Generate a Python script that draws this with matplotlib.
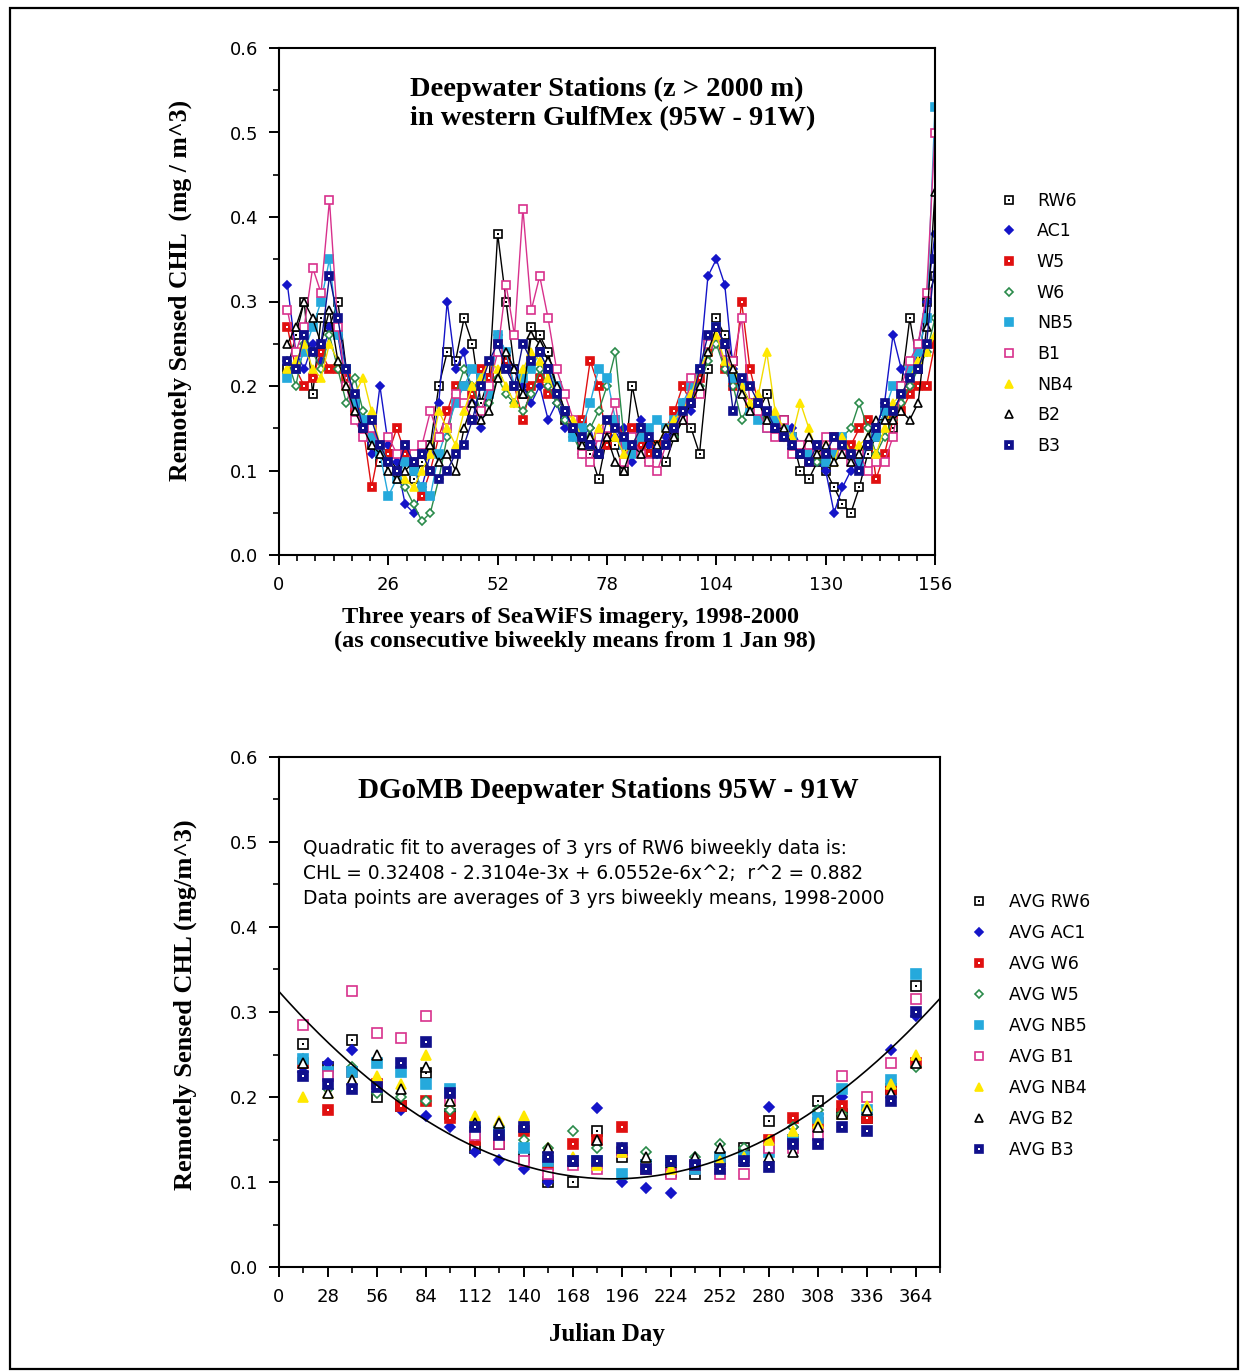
import numpy as np
import matplotlib.pyplot as plt
from matplotlib.lines import Line2D
from matplotlib.patches import Rectangle
from matplotlib.ticker import MultipleLocator

W, H = 1241, 1371

# ---- top panel: biweekly means, three years (week 2 .. 156) ----
semanas = np.arange(2, 157, 2)

rw6 = [0.22, 0.26, 0.30, 0.19, 0.28, 0.27, 0.30, 0.22, 0.18, 0.15,
       0.13, 0.11, 0.12, 0.10, 0.12, 0.09, 0.11, 0.13, 0.20, 0.24,
       0.23, 0.28, 0.25, 0.18, 0.21, 0.38, 0.30, 0.22, 0.19, 0.27,
       0.26, 0.24, 0.20, 0.16, 0.15, 0.13, 0.12, 0.09, 0.14, 0.13,
       0.10, 0.20, 0.15, 0.12, 0.13, 0.11, 0.14, 0.16, 0.15, 0.12,
       0.22, 0.28, 0.26, 0.23, 0.20, 0.18, 0.17, 0.19, 0.15, 0.16,
       0.14, 0.10, 0.09, 0.11, 0.10, 0.08, 0.06, 0.05, 0.08, 0.12,
       0.14, 0.17, 0.15, 0.20, 0.28, 0.22, 0.30, 0.33]
ac1 = [0.32, 0.24, 0.22, 0.25, 0.23, 0.27, 0.26, 0.20, 0.17, 0.15,
       0.12, 0.20, 0.13, 0.11, 0.06, 0.05, 0.08, 0.12, 0.18, 0.30,
       0.22, 0.24, 0.18, 0.15, 0.20, 0.26, 0.24, 0.22, 0.20, 0.18,
       0.20, 0.16, 0.18, 0.15, 0.16, 0.14, 0.15, 0.12, 0.13, 0.14,
       0.15, 0.11, 0.16, 0.13, 0.12, 0.14, 0.15, 0.18, 0.17, 0.22,
       0.33, 0.35, 0.32, 0.22, 0.20, 0.18, 0.17, 0.15, 0.16, 0.14,
       0.15, 0.13, 0.12, 0.11, 0.10, 0.05, 0.08, 0.10, 0.12, 0.13,
       0.15, 0.18, 0.26, 0.22, 0.20, 0.25, 0.30, 0.38]
w5 = [0.27, 0.22, 0.20, 0.21, 0.24, 0.22, 0.22, 0.21, 0.17, 0.15,
      0.08, 0.13, 0.12, 0.15, 0.12, 0.11, 0.07, 0.10, 0.14, 0.17,
      0.20, 0.20, 0.19, 0.22, 0.21, 0.25, 0.23, 0.20, 0.16, 0.20,
      0.21, 0.19, 0.20, 0.17, 0.15, 0.16, 0.23, 0.20, 0.13, 0.16,
      0.14, 0.15, 0.13, 0.12, 0.13, 0.15, 0.17, 0.20, 0.18, 0.21,
      0.24, 0.26, 0.22, 0.20, 0.30, 0.22, 0.18, 0.16, 0.15, 0.14,
      0.14, 0.12, 0.11, 0.13, 0.12, 0.14, 0.12, 0.13, 0.15, 0.16,
      0.09, 0.12, 0.16, 0.17, 0.19, 0.20, 0.20, 0.25]
w6 = [0.23, 0.20, 0.25, 0.24, 0.22, 0.26, 0.22, 0.18, 0.21, 0.17,
      0.14, 0.12, 0.11, 0.10, 0.08, 0.06, 0.04, 0.05, 0.09, 0.14,
      0.19, 0.22, 0.20, 0.17, 0.18, 0.21, 0.19, 0.18, 0.17, 0.19,
      0.22, 0.20, 0.18, 0.16, 0.14, 0.12, 0.15, 0.17, 0.20, 0.24,
      0.14, 0.13, 0.12, 0.11, 0.12, 0.13, 0.14, 0.16, 0.18, 0.20,
      0.23, 0.25, 0.22, 0.20, 0.16, 0.18, 0.17, 0.16, 0.15, 0.14,
      0.13, 0.12, 0.13, 0.11, 0.12, 0.13, 0.14, 0.15, 0.18, 0.15,
      0.12, 0.14, 0.16, 0.18, 0.20, 0.22, 0.24, 0.28]
nb5 = [0.21, 0.22, 0.24, 0.27, 0.30, 0.35, 0.26, 0.22, 0.18, 0.16,
       0.14, 0.12, 0.07, 0.09, 0.11, 0.10, 0.08, 0.07, 0.12, 0.15,
       0.18, 0.20, 0.22, 0.21, 0.19, 0.26, 0.24, 0.20, 0.21, 0.22,
       0.24, 0.22, 0.20, 0.17, 0.14, 0.15, 0.18, 0.22, 0.21, 0.16,
       0.13, 0.12, 0.14, 0.15, 0.16, 0.15, 0.16, 0.18, 0.20, 0.22,
       0.25, 0.27, 0.24, 0.21, 0.20, 0.17, 0.16, 0.15, 0.16, 0.15,
       0.14, 0.13, 0.12, 0.13, 0.11, 0.12, 0.14, 0.12, 0.11, 0.13,
       0.14, 0.17, 0.20, 0.19, 0.22, 0.24, 0.28, 0.53]
b1 = [0.29, 0.24, 0.27, 0.34, 0.31, 0.42, 0.27, 0.20, 0.16, 0.14,
      0.15, 0.13, 0.14, 0.12, 0.13, 0.12, 0.13, 0.17, 0.14, 0.15,
      0.19, 0.18, 0.16, 0.17, 0.20, 0.24, 0.32, 0.26, 0.41, 0.29,
      0.33, 0.28, 0.22, 0.19, 0.16, 0.12, 0.11, 0.14, 0.15, 0.18,
      0.11, 0.14, 0.12, 0.11, 0.10, 0.13, 0.15, 0.16, 0.21, 0.19,
      0.25, 0.26, 0.24, 0.23, 0.28, 0.18, 0.17, 0.15, 0.14, 0.16,
      0.12, 0.13, 0.13, 0.12, 0.14, 0.13, 0.12, 0.11, 0.12, 0.10,
      0.11, 0.11, 0.14, 0.20, 0.23, 0.25, 0.31, 0.50]
nb4 = [0.22, 0.23, 0.25, 0.22, 0.21, 0.25, 0.23, 0.20, 0.19, 0.21,
       0.17, 0.13, 0.11, 0.10, 0.09, 0.08, 0.10, 0.12, 0.17, 0.15,
       0.13, 0.17, 0.20, 0.21, 0.23, 0.22, 0.20, 0.18, 0.22, 0.24,
       0.23, 0.21, 0.19, 0.17, 0.16, 0.14, 0.13, 0.15, 0.16, 0.14,
       0.12, 0.13, 0.15, 0.14, 0.13, 0.15, 0.16, 0.17, 0.19, 0.22,
       0.24, 0.26, 0.23, 0.22, 0.20, 0.18, 0.19, 0.24, 0.17, 0.15,
       0.14, 0.18, 0.15, 0.12, 0.13, 0.11, 0.14, 0.12, 0.13, 0.14,
       0.12, 0.15, 0.18, 0.19, 0.21, 0.23, 0.24, 0.26]
b2 = [0.25, 0.27, 0.30, 0.28, 0.25, 0.29, 0.23, 0.20, 0.17, 0.15,
      0.13, 0.12, 0.10, 0.09, 0.10, 0.11, 0.12, 0.13, 0.11, 0.12,
      0.10, 0.15, 0.18, 0.16, 0.17, 0.21, 0.24, 0.22, 0.19, 0.26,
      0.25, 0.23, 0.20, 0.17, 0.15, 0.13, 0.14, 0.12, 0.14, 0.11,
      0.10, 0.13, 0.12, 0.14, 0.13, 0.15, 0.14, 0.16, 0.18, 0.20,
      0.24, 0.27, 0.25, 0.22, 0.19, 0.17, 0.18, 0.16, 0.15, 0.15,
      0.13, 0.12, 0.14, 0.12, 0.13, 0.11, 0.12, 0.11, 0.12, 0.14,
      0.16, 0.16, 0.16, 0.17, 0.16, 0.18, 0.27, 0.43]
b3 = [0.23, 0.22, 0.26, 0.24, 0.25, 0.33, 0.28, 0.22, 0.19, 0.15,
      0.16, 0.13, 0.11, 0.10, 0.13, 0.11, 0.12, 0.10, 0.09, 0.10,
      0.12, 0.13, 0.16, 0.20, 0.23, 0.25, 0.22, 0.20, 0.25, 0.23,
      0.24, 0.22, 0.19, 0.17, 0.15, 0.14, 0.13, 0.12, 0.16, 0.15,
      0.14, 0.13, 0.15, 0.14, 0.12, 0.13, 0.15, 0.17, 0.18, 0.22,
      0.26, 0.27, 0.25, 0.17, 0.21, 0.20, 0.18, 0.17, 0.15, 0.14,
      0.13, 0.12, 0.11, 0.13, 0.12, 0.14, 0.13, 0.12, 0.10, 0.13,
      0.15, 0.18, 0.17, 0.19, 0.21, 0.22, 0.25, 0.35]

# ---- bottom panel: 3-yr averages by julian day ----
dias = np.arange(14, 365, 14)

avg_rw6 = [0.262, 0.235, 0.267, 0.200, 0.190, 0.228, 0.180, 0.140, 0.145, 0.130, 0.100, 0.100, 0.160,
           0.130, 0.120, 0.112, 0.110, 0.125, 0.140, 0.172, 0.150, 0.195, 0.180, 0.175, 0.210, 0.330]
avg_ac1 = [0.230, 0.240, 0.255, 0.220, 0.185, 0.178, 0.165, 0.135, 0.126, 0.115, 0.100, 0.125, 0.187,
           0.100, 0.093, 0.087, 0.120, 0.125, 0.135, 0.188, 0.165, 0.180, 0.200, 0.185, 0.255, 0.295]
avg_w6 = [0.240, 0.185, 0.230, 0.215, 0.190, 0.195, 0.175, 0.150, 0.150, 0.160, 0.120, 0.145, 0.150,
          0.165, 0.115, 0.125, 0.115, 0.130, 0.130, 0.150, 0.175, 0.170, 0.190, 0.175, 0.210, 0.240]
avg_w5 = [0.245, 0.210, 0.235, 0.205, 0.200, 0.195, 0.185, 0.160, 0.165, 0.150, 0.140, 0.160, 0.140,
          0.140, 0.135, 0.120, 0.130, 0.145, 0.140, 0.145, 0.165, 0.185, 0.180, 0.185, 0.215, 0.235]
avg_nb5 = [0.245, 0.230, 0.230, 0.240, 0.230, 0.215, 0.210, 0.160, 0.160, 0.140, 0.125, 0.125, 0.125,
           0.110, 0.120, 0.125, 0.115, 0.130, 0.130, 0.135, 0.150, 0.175, 0.210, 0.185, 0.220, 0.345]
avg_b1 = [0.285, 0.225, 0.325, 0.275, 0.270, 0.295, 0.195, 0.155, 0.145, 0.125, 0.110, 0.120, 0.115,
          0.135, 0.115, 0.110, 0.120, 0.110, 0.110, 0.140, 0.140, 0.155, 0.225, 0.200, 0.240, 0.315]
avg_nb4 = [0.200, 0.205, 0.220, 0.225, 0.215, 0.250, 0.195, 0.178, 0.172, 0.178, 0.140, 0.130, 0.120,
           0.135, 0.125, 0.115, 0.120, 0.125, 0.130, 0.150, 0.160, 0.170, 0.180, 0.190, 0.215, 0.250]
avg_b2 = [0.240, 0.205, 0.220, 0.250, 0.210, 0.235, 0.195, 0.170, 0.170, 0.165, 0.140, 0.125, 0.150,
          0.140, 0.130, 0.125, 0.130, 0.140, 0.125, 0.130, 0.135, 0.165, 0.180, 0.185, 0.205, 0.240]
avg_b3 = [0.225, 0.215, 0.210, 0.212, 0.240, 0.265, 0.205, 0.165, 0.155, 0.165, 0.130, 0.125, 0.125,
          0.140, 0.115, 0.125, 0.120, 0.115, 0.125, 0.118, 0.145, 0.145, 0.165, 0.160, 0.195, 0.300]

# quadratic fit to RW6 averages (coefficients as quoted on the chart)
coef = [6.0552e-6, -2.3104e-3, 0.32408]

# marker style per station: (marker, face, edge, centre-dot colour or None, line colour)
estilo = {
    'RW6': ('s', 'white', 'black', 'black', 'black'),
    'AC1': ('D', '#1414c8', '#1414c8', None, '#1414c8'),
    'W5':  ('s', '#e01010', '#e01010', 'white', '#e01010'),
    'W6':  ('D', 'white', '#2a8a4a', None, '#2a8a4a'),
    'NB5': ('s', '#25a9dc', '#25a9dc', None, '#25a9dc'),
    'B1':  ('s', 'white', '#d8318c', None, '#d8318c'),
    'NB4': ('^', '#ffe800', '#ffe800', None, '#f2dc00'),
    'B2':  ('^', 'white', 'black', None, 'black'),
    'B3':  ('s', '#10108c', '#10108c', 'white', '#10108c'),
}


def marca(ax, x, y, nome, linha=True, ms=6.0):
    mk, fc, ec, dot, lc = estilo[nome]
    tam = ms * 0.75 if mk == 'D' else ms
    ls = '-' if linha else 'none'
    h1, = ax.plot(x, y, ls=ls, lw=1.0, color=lc, marker=mk, ms=tam,
                  mfc=fc, mec=ec, mew=1.2)
    if dot is None:
        return h1
    h2, = ax.plot(x, y, ls='none', marker='s', ms=1.6, mfc=dot, mec=dot, mew=0)
    return (h1, h2)


def legenda_handle(nome, ms=6.0):
    mk, fc, ec, dot, lc = estilo[nome]
    tam = ms * 0.75 if mk == 'D' else ms
    h1 = Line2D([], [], ls='none', marker=mk, ms=tam, mfc=fc, mec=ec, mew=1.2)
    if dot is None:
        return h1
    h2 = Line2D([], [], ls='none', marker='s', ms=1.6, mfc=dot, mec=dot, mew=0)
    return (h1, h2)


def fx(px):
    return px / W


def fy(py):
    return 1 - py / H


plt.rcParams['font.family'] = ['DejaVu Sans']
serif = 'Liberation Serif'

fig = plt.figure(figsize=(W / 100, H / 100), dpi=100)
fig.add_artist(Rectangle((fx(10), fy(1369)), fx(1238) - fx(10), fy(8) - fy(1369),
                         transform=fig.transFigure, fill=False, lw=1.6, color='black'))

# ---------------- top chart ----------------
ax1 = fig.add_axes([fx(279), fy(555), fx(935) - fx(279), fy(48) - fy(555)])
series_top = [('RW6', rw6), ('AC1', ac1), ('W5', w5), ('W6', w6), ('NB5', nb5),
              ('B1', b1), ('NB4', nb4), ('B2', b2), ('B3', b3)]
for nome, vals in series_top:
    marca(ax1, semanas, vals, nome, linha=True, ms=5.5)

ax1.set_xlim(0, 156)
ax1.set_ylim(0, 0.6)
ax1.xaxis.set_major_locator(MultipleLocator(26))
ax1.xaxis.set_minor_locator(MultipleLocator(26 / 6))
ax1.yaxis.set_major_locator(MultipleLocator(0.1))
ax1.yaxis.set_minor_locator(MultipleLocator(0.05))
ax1.yaxis.set_major_formatter(plt.FuncFormatter(lambda v, p: f'{v:.1f}'))

ax1.text(fx(410), fy(89), 'Deepwater Stations (z > 2000 m)', transform=fig.transFigure,
         family=serif, fontweight='bold', fontsize=20.5, ha='left', va='center')
ax1.text(fx(410), fy(119), 'in western GulfMex (95W - 91W)', transform=fig.transFigure,
         family=serif, fontweight='bold', fontsize=20.5, ha='left', va='center')
fig.text(fx(180), fy(290), 'Remotely Sensed CHL  (mg / m^3)', rotation=90,
         family=serif, fontweight='bold', fontsize=18.5, ha='center', va='center')
fig.text(fx(570), fy(617), 'Three years of SeaWiFS imagery, 1998-2000',
         family=serif, fontweight='bold', fontsize=17.5, ha='center', va='center')
fig.text(fx(575), fy(641), '(as consecutive biweekly means from 1 Jan 98)',
         family=serif, fontweight='bold', fontsize=17.5, ha='center', va='center')

hs = [legenda_handle(n, 5.5) for n, _ in series_top]
fig.legend(hs, [n for n, _ in series_top], loc='upper left',
           bbox_to_anchor=(fx(990), fy(183)), frameon=False, fontsize=12.5,
           handlelength=1.2, handletextpad=1.0, labelspacing=0.73, borderpad=0)

# ---------------- bottom chart ----------------
ax2 = fig.add_axes([fx(279), fy(1267), fx(940) - fx(279), fy(757) - fy(1267)])
series_bot = [('AVG RW6', 'RW6', avg_rw6), ('AVG AC1', 'AC1', avg_ac1),
              ('AVG W6', 'W5', avg_w6), ('AVG W5', 'W6', avg_w5),
              ('AVG NB5', 'NB5', avg_nb5), ('AVG B1', 'B1', avg_b1),
              ('AVG NB4', 'NB4', avg_nb4), ('AVG B2', 'B2', avg_b2),
              ('AVG B3', 'B3', avg_b3)]
for rotulo, nome, vals in series_bot:
    marca(ax2, dias, vals, nome, linha=False, ms=6.5)

xs = np.linspace(0, 378, 200)
ax2.plot(xs, np.polyval(coef, xs), color='black', lw=1.2)

ax2.set_xlim(0, 378)
ax2.set_ylim(0, 0.6)
ax2.xaxis.set_major_locator(MultipleLocator(28))
ax2.xaxis.set_minor_locator(MultipleLocator(14))
ax2.yaxis.set_major_locator(MultipleLocator(0.1))
ax2.yaxis.set_minor_locator(MultipleLocator(0.05))
ax2.yaxis.set_major_formatter(plt.FuncFormatter(lambda v, p: f'{v:.1f}'))

fig.text(fx(608), fy(790), 'DGoMB Deepwater Stations 95W - 91W',
         family=serif, fontweight='bold', fontsize=21, ha='center', va='center')
for i, linha in enumerate(['Quadratic fit to averages of 3 yrs of RW6 biweekly data is:',
                           'CHL = 0.32408 - 2.3104e-3x + 6.0552e-6x^2;  r^2 = 0.882',
                           'Data points are averages of 3 yrs biweekly means, 1998-2000']):
    fig.text(fx(303), fy(849 + 24.5 * i), linha, fontsize=13.4, ha='left', va='center')
fig.text(fx(185), fy(1005), 'Remotely Sensed CHL (mg/m^3)', rotation=90,
         family=serif, fontweight='bold', fontsize=19, ha='center', va='center')
fig.text(fx(607), fy(1335), 'Julian Day', family=serif, fontweight='bold',
         fontsize=18, ha='center', va='center')

hs2 = [legenda_handle(n, 6.0) for _, n, _ in series_bot]
fig.legend(hs2, [r for r, _, _ in series_bot], loc='upper left',
           bbox_to_anchor=(fx(960), fy(884)), frameon=False, fontsize=12.5,
           handlelength=1.2, handletextpad=1.1, labelspacing=0.75, borderpad=0)

for ax in (ax1, ax2):
    for s in ax.spines.values():
        s.set_linewidth(1.5)
    ax.tick_params(which='major', direction='out', length=7, width=1.4,
                   labelsize=13, pad=8)
    ax.tick_params(which='minor', direction='out', length=4, width=1.2)

fig.savefig('out.png', dpi=100)
